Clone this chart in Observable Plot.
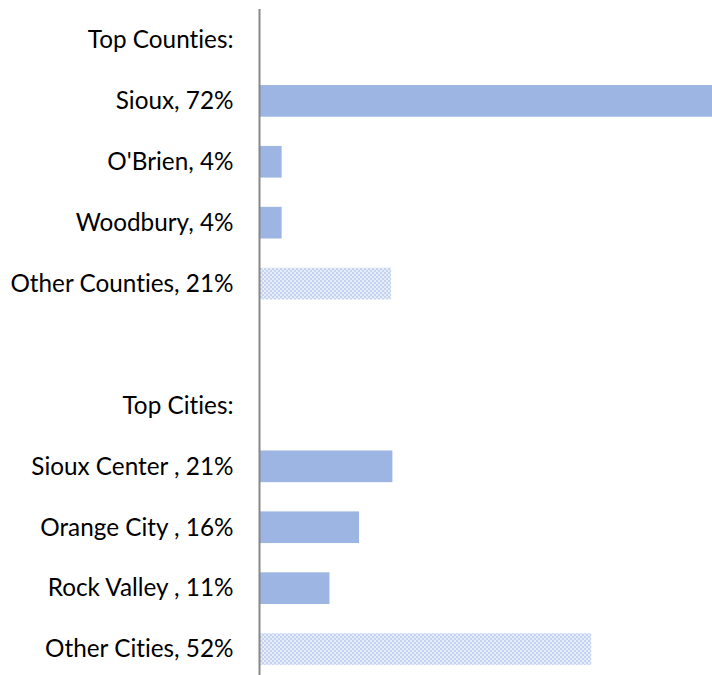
<!DOCTYPE html>
<html>
<head>
<meta charset="utf-8">
<script src="https://cdn.jsdelivr.net/npm/d3@7"></script>
<script src="https://cdn.jsdelivr.net/npm/@observablehq/plot@0.6"></script>
<style>
  html, body { margin: 0; padding: 0; background: #fff; }
  #chart { width: 712px; height: 675px; }
  svg text { font-variant-ligatures: none; font-feature-settings: "liga" 0, "clig" 0; }
</style>
</head>
<body>
<div id="chart"></div>
<script>
// Row labels (top to bottom); " " is the blank spacer row
const labels = [
  "Top Counties:",
  "Sioux, 72%",
  "O'Brien, 4%",
  "Woodbury, 4%",
  "Other Counties, 21%",
  " ",
  "Top Cities:",
  "Sioux Center , 21%",
  "Orange City , 16%",
  "Rock Valley , 11%",
  "Other Cities, 52%"
];
// Bar lengths (percent), null for header / spacer rows
const values = [null, 72, 3.6, 3.6, 21, null, null, 21.2, 15.9, 11.2, 52.8];
// Whether bar is an "Other" (patterned) bar
const isOther = [false, false, false, false, true, false, false, false, false, false, true];

const data = labels.map((label, i) => ({label, value: values[i], other: isOther[i]}))
  .filter(d => d.value != null);

const chart = Plot.plot({
  width: 712,
  height: 675,
  marginLeft: 259,
  marginRight: 0,
  marginTop: 9,
  marginBottom: 0,
  style: {fontFamily: "Lato, 'Open Sans', sans-serif", fontSize: "24.3px", color: "#000", background: "#fff"},
  x: {domain: [0, 72], axis: null},
  y: {domain: labels, range: [9.5, 679.5], paddingInner: 0.48, paddingOuter: 0.24, round: false, label: null},
  marks: [
    Plot.axisY({tickSize: 0, tickPadding: 26, fontSize: 24.3, label: null, fill: "#000"}),
    Plot.barX(data, {
      x: "value",
      y: "label",
      fill: d => d.other ? "url(#chk)" : "#9db5e3"
    }),
    Plot.ruleX([0], {stroke: "#888", strokeWidth: 2})
  ]
});

// Add the checkered pattern definition
const ns = "http://www.w3.org/2000/svg";
const defs = document.createElementNS(ns, "defs");
const pat = document.createElementNS(ns, "pattern");
pat.setAttribute("id", "chk");
pat.setAttribute("patternUnits", "userSpaceOnUse");
pat.setAttribute("width", "4");
pat.setAttribute("height", "4");
const bg = document.createElementNS(ns, "rect");
bg.setAttribute("width", "4"); bg.setAttribute("height", "4"); bg.setAttribute("fill", "#e6edf9");
pat.appendChild(bg);
[[0,0],[2,2]].forEach(([x,y]) => {
  const r = document.createElementNS(ns, "rect");
  r.setAttribute("x", x); r.setAttribute("y", y);
  r.setAttribute("width", "2"); r.setAttribute("height", "2");
  r.setAttribute("fill", "#c3d3f0");
  pat.appendChild(r);
});
defs.appendChild(pat);
chart.insertBefore(defs, chart.firstChild);

document.getElementById("chart").appendChild(chart);
</script>
</body>
</html>
